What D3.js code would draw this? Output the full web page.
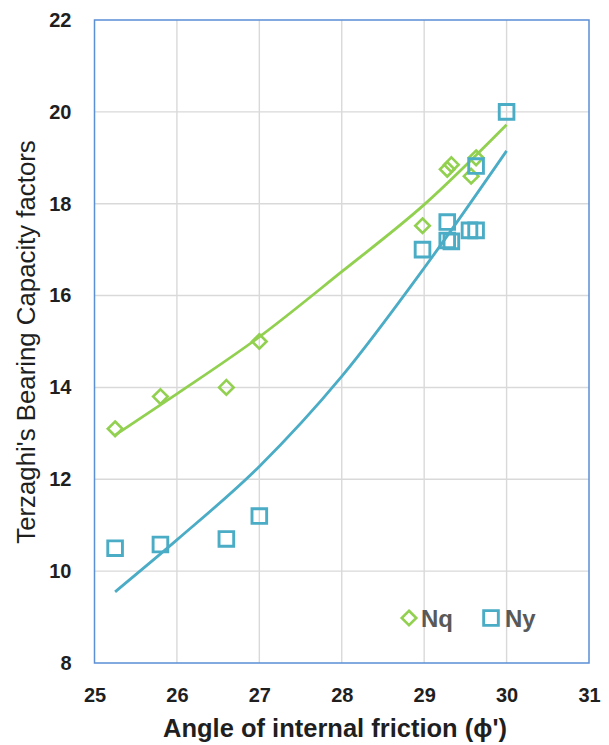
<!DOCTYPE html>
<html>
<head>
<meta charset="utf-8">
<script src="https://cdn.jsdelivr.net/npm/d3@7"></script>
<style>
  body { margin: 0; background: #fff; }
  svg { font-family: "Liberation Sans", Arial, sans-serif; }
</style>
</head>
<body>
<svg id="chart" width="609" height="745"></svg>
<script>

// angle of internal friction (deg) vs Terzaghi factors
var nqPhi = [25.25, 25.8, 26.6, 27.0, 28.98, 29.28, 29.33, 29.57, 29.63];
var nqVal = [13.1, 13.8, 14.0, 15.0, 17.52, 18.75, 18.85, 18.6, 19.0];

var nyPhi = [25.25, 25.8, 26.6, 27.0, 28.98, 29.28, 29.28, 29.33, 29.55, 29.63, 29.63, 30.0];
var nyVal = [10.5, 10.58, 10.7, 11.2, 17.0, 17.6, 17.2, 17.18, 17.42, 17.42, 18.82, 20.0];

// trend lines (exponential fits in the original)
var trendPhi = [25.25, 26, 27, 28, 29, 30];
var nqTrend = [12.96, 13.86, 15.1, 16.52, 17.98, 19.72];
var nyTrend = [9.55, 10.68, 12.28, 14.24, 16.6, 19.15];

var xTicks = [25, 26, 27, 28, 29, 30, 31];
var yTicks = [8, 10, 12, 14, 16, 18, 20, 22];

var greenColor = "#92d050";
var blueColor = "#4bacc6";
var textColor = "#1f1f1f";

var margin = {top: 20, right: 20, bottom: 82, left: 94.5};
var width = 589 - margin.left;
var height = 663 - margin.top;

var svg = d3.select("#chart");
var g = svg.append("g").attr("transform", "translate(" + margin.left + "," + margin.top + ")");

var x = d3.scaleLinear().domain([25, 31]).range([0, width]);
var y = d3.scaleLinear().domain([8, 22]).range([height, 0]);

// gridlines
g.append("g").selectAll("line").data(xTicks.slice(1, -1)).enter().append("line")
    .attr("x1", function(d) { return x(d); })
    .attr("x2", function(d) { return x(d); })
    .attr("y1", 0).attr("y2", height)
    .style("stroke", "#d9d9d9").style("stroke-width", 1.4);
g.append("g").selectAll("line").data(yTicks.slice(1, -1)).enter().append("line")
    .attr("y1", function(d) { return y(d); })
    .attr("y2", function(d) { return y(d); })
    .attr("x1", 0).attr("x2", width)
    .style("stroke", "#d9d9d9").style("stroke-width", 1.4);

// plot border
g.append("rect")
    .attr("width", width).attr("height", height)
    .style("fill", "none").style("stroke", "#5b8fd6").style("stroke-width", 1.5);

// axes (labels only)
var xAxis = d3.axisBottom(x).tickValues(xTicks).tickFormat(d3.format("d")).tickSize(0).tickPadding(25);
var yAxis = d3.axisLeft(y).tickValues(yTicks).tickFormat(d3.format("d")).tickSize(0).tickPadding(23);

var xg = g.append("g").attr("transform", "translate(0," + height + ")").call(xAxis);
var yg = g.append("g").call(yAxis);
[xg, yg].forEach(function(a) {
    a.select(".domain").remove();
    a.selectAll("text")
        .style("font-size", "20px")
        .style("font-weight", "bold")
        .style("fill", textColor)
        .style("font-family", "'Liberation Sans', Arial, sans-serif");
});

// trend lines
var line = d3.line()
    .x(function(d) { return x(d[0]); })
    .y(function(d) { return y(d[1]); })
    .curve(d3.curveMonotoneX);

g.append("path")
    .datum(d3.zip(trendPhi, nqTrend))
    .attr("d", line)
    .style("fill", "none").style("stroke", greenColor).style("stroke-width", 2.8);
g.append("path")
    .datum(d3.zip(trendPhi, nyTrend))
    .attr("d", line)
    .style("fill", "none").style("stroke", blueColor).style("stroke-width", 2.8);

// markers
var diamond = d3.symbol().type(d3.symbolDiamond2).size(135);
var square = d3.symbol().type(d3.symbolSquare).size(215);

g.append("g").selectAll("path").data(d3.zip(nqPhi, nqVal)).enter().append("path")
    .attr("d", diamond)
    .attr("transform", function(d) { return "translate(" + x(d[0]) + "," + y(d[1]) + ")"; })
    .style("fill", "none").style("stroke", greenColor).style("stroke-width", 2.6);

g.append("g").selectAll("path").data(d3.zip(nyPhi, nyVal)).enter().append("path")
    .attr("d", square)
    .attr("transform", function(d) { return "translate(" + x(d[0]) + "," + y(d[1]) + ")"; })
    .style("fill", "none").style("stroke", blueColor).style("stroke-width", 2.9);

// legend
var legend = g.append("g").attr("transform", "translate(" + (409 - margin.left) + "," + (618 - margin.top) + ")");
legend.append("path").attr("d", diamond).style("fill", "none").style("stroke", greenColor).style("stroke-width", 2.6);
legend.append("text").attr("x", 12).attr("y", 8.5).text("Nq")
    .style("font-size", "24px").style("font-weight", "bold").style("fill", "#595959");
legend.append("path").attr("d", square).attr("transform", "translate(82,0)")
    .style("fill", "none").style("stroke", blueColor).style("stroke-width", 2.9);
legend.append("text").attr("x", 96).attr("y", 8.5).text("Ny")
    .style("font-size", "24px").style("font-weight", "bold").style("fill", "#595959");

// axis titles
svg.append("text")
    .attr("x", 335).attr("y", 737)
    .attr("text-anchor", "middle")
    .style("font-size", "25.5px").style("font-weight", "bold").style("fill", textColor)
    .text("Angle of internal friction (\u03d5')");

svg.append("text")
    .attr("transform", "translate(35,342) rotate(-90)")
    .attr("text-anchor", "middle")
    .style("font-size", "25.8px").style("fill", textColor)
    .text("Terzaghi's Bearing Capacity factors");

</script>
</body>
</html>
